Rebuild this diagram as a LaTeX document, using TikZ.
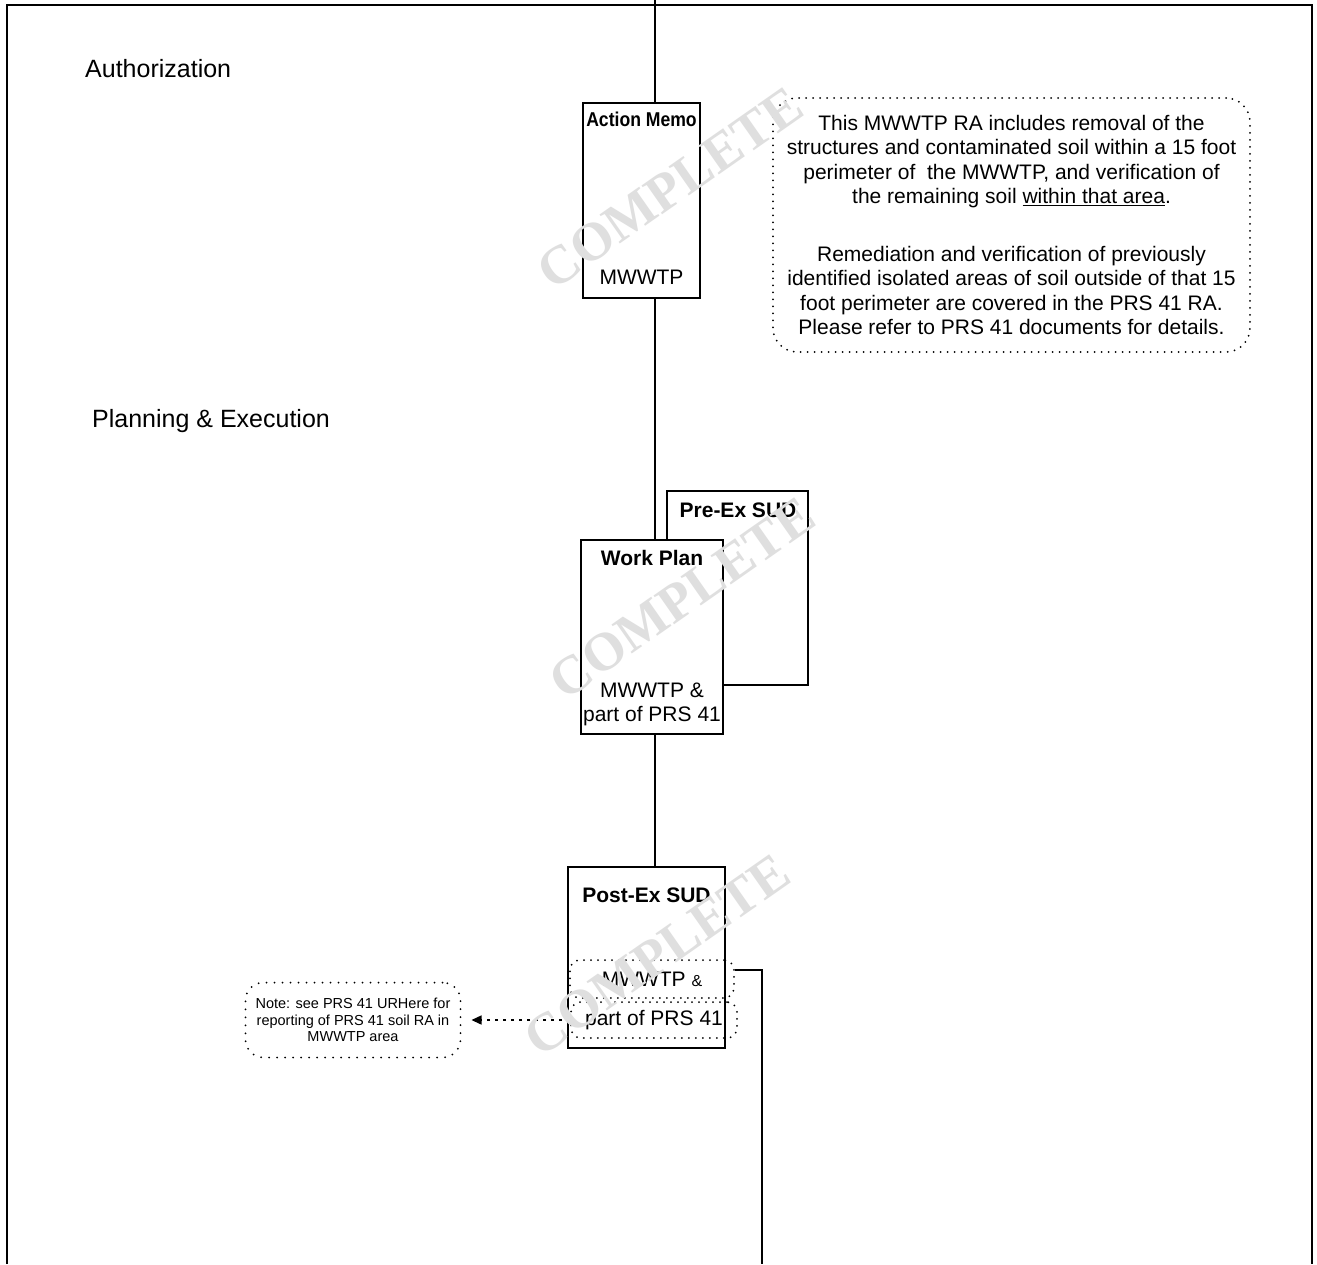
\documentclass[tikz,border=0pt]{standalone}
\usepackage{fontspec}
\setmainfont{Liberation Sans}
\newfontfamily\stampfont{Liberation Serif}
\usetikzlibrary{arrows.meta}
\begin{document}
\begin{tikzpicture}[x=1pt,y=-1pt,
  box/.style={draw, line width=1.8pt, fill=white, inner sep=0pt},
  ttl/.style={font=\bfseries\fontsize{21}{24}\selectfont, inner sep=0pt},
  txt/.style={font=\fontsize{21}{24}\selectfont, inner sep=0pt, align=center},
  conn/.style={line width=1.5pt},
  dotb/.style={draw, line width=2pt, line cap=round, dash pattern=on 0pt off 7pt},
  section/.style={font=\fontsize{25}{30}\selectfont, anchor=west, inner sep=0pt},
  stamp/.style={font=\stampfont\bfseries\fontsize{54}{54}\selectfont, text=gray!25, rotate=35, inner sep=0pt}
]
\useasboundingbox (0,0) rectangle (1317,1264);
\fill[white] (0,0) rectangle (1317,1264);
\draw[line width=2pt] (7,1264) -- (7,5) -- (1312,5) -- (1312,1264);

\node[section] (auth) at (85,69) {Authorization};
\node[section] (plan) at (92,421) {Planning \& Execution};

\coordinate (top) at (655,0);
\node[box, minimum width=117, minimum height=195] (am) at (641.5,200.5) {};
\node[ttl, font=\bfseries\fontsize{20}{23}\selectfont] (amt) at (641.5,119) {\scalebox{0.88}[1]{Action Memo}};
\node[txt] (amb) at (641.5,277) {MWWTP};

\node[dotb, rounded corners=24, minimum width=477, minimum height=254, inner sep=0pt, align=center, font=\fontsize{21}{24.5}\selectfont] (note) at (1011.5,225) {This MWWTP RA includes removal of the\\
structures and contaminated soil within a 15 foot\\
perimeter of\ \ the MWWTP, and verification of\\
the remaining soil \underline{within that area}.\\[33pt]
Remediation and verification of previously\\
identified isolated areas of soil outside of that 15\\
foot perimeter are covered in the PRS 41 RA.\\
Please refer to PRS 41 documents for details.};

\node[box, minimum width=141, minimum height=194] (pre) at (737.5,588) {};
\node[ttl] (pret) at (738,510) {Pre-Ex SUD};
\node[box, minimum width=142, minimum height=194] (wp) at (652,637) {};
\node[ttl] (wpt) at (652,558) {Work Plan};
\node[txt] (wpb) at (652,704) {MWWTP \&\\part of PRS 41};

\node[box, minimum width=157, minimum height=181] (pe) at (646.5,957.5) {};
\node[ttl] (pet) at (646.5,895) {Post-Ex SUD};
\node[dotb, rounded corners=10, minimum width=164, minimum height=38, txt] (pe1) at (652,979) {MWWTP {\fontsize{16}{18}\selectfont\&}};
\node[dotb, rounded corners=10, minimum width=166, minimum height=36, txt] (pe2) at (654,1020) {part of PRS 41};

\node[dotb, rounded corners=18, minimum width=215, minimum height=75, font=\fontsize{14.5}{16.5}\selectfont, align=center, inner sep=0pt, dash pattern=on 0pt off 8pt] (pn) at (353,1020) {Note: see PRS 41 URHere for\\reporting of PRS 41 soil RA in\\MWWTP area};

\coordinate (bend) at (762,970);
\coordinate (bot) at (762,1264);

\draw[conn] (top) -- (top |- am.north);
\draw[conn] (top |- am.south) -- (top |- wp.north);
\draw[conn] (top |- wp.south) -- (top |- pe.north);
\draw[conn] (pe1.east |- bend) -- (bend) -- (bot);
\draw[line width=1.5pt, dash pattern=on 3pt off 5pt, shorten >=10pt, -{Triangle[width=9pt,length=10pt]}] (pe2.west) -- (pn.east);

\node[stamp] (s1) at (670,188) {COMPLETE};
\node[stamp] (s2) at (682,598) {COMPLETE};
\node[stamp] (s3) at (657,955) {COMPLETE};
\end{tikzpicture}
\end{document}
